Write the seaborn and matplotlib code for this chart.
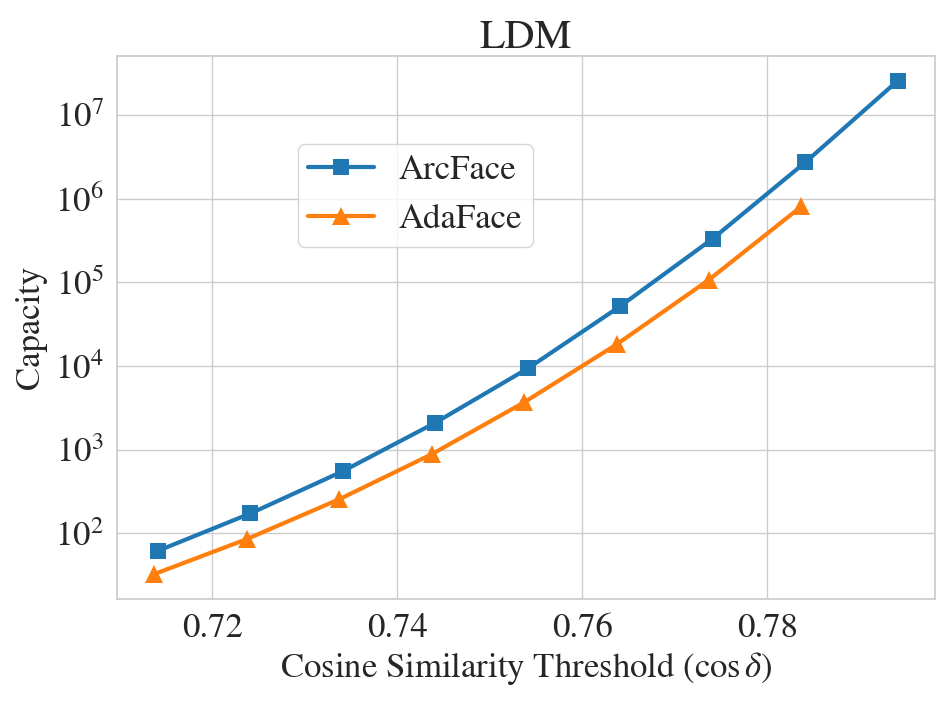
import numpy as np
import pandas as pd
import seaborn as sns
import matplotlib.pyplot as plt

# values (log-scale capacity)
arcface_x = [0.7141, 0.7241, 0.7341, 0.7441, 0.7541, 0.7641, 0.7741, 0.7841, 0.7941]
arcface_y = [61.5, 172, 550, 2090, 9300, 51600, 331000, 2.7e6, 2.55e7]
adaface_x = [0.7137, 0.7237, 0.7337, 0.7437, 0.7537, 0.7637, 0.7737, 0.7837]
adaface_y = [32.4, 84.8, 254, 877, 3660, 18000, 107000, 805000]

sns.set_theme(style="whitegrid")
plt.rcParams['font.family'] = ['STIXGeneral', 'Liberation Serif', 'DejaVu Serif']
plt.rcParams['mathtext.fontset'] = 'stix'

fig = plt.figure(figsize=(9.51, 7.02), dpi=100)
ax = fig.add_axes([0.123, 0.147, 0.860, 0.773])

sns.lineplot(x=arcface_x, y=arcface_y, ax=ax, marker='s', markersize=11,
             linewidth=3, color='#1f77b4', markeredgewidth=0, label='ArcFace')
sns.lineplot(x=adaface_x, y=adaface_y, ax=ax, marker='^', markersize=13,
             linewidth=3, color='#ff7f0e', markeredgewidth=0, label='AdaFace')

ax.set_yscale('log')
ax.set_xticks([0.72, 0.74, 0.76, 0.78])
ax.set_xticklabels(['0.72', '0.74', '0.76', '0.78'])
ax.tick_params(labelsize=25)
ax.tick_params(axis='x', pad=4)
ax.set_title('LDM', fontsize=30)
ax.set_xlabel(r'Cosine Similarity Threshold ($\cos\delta$)', fontsize=25, labelpad=4)
ax.set_ylabel('Capacity', fontsize=25, labelpad=6)
ax.legend(loc='upper left', bbox_to_anchor=(0.2, 0.87), fontsize=25,
          handlelength=1.9, handletextpad=0.7, borderpad=0.3)

fig.savefig('out.png', dpi=100)
